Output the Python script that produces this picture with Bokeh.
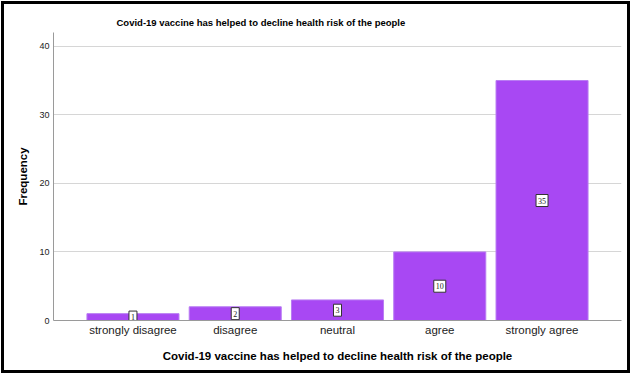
from bokeh.plotting import figure
from bokeh.models import ColumnDataSource, Range1d, FixedTicker, LabelSet, Title
from bokeh.embed import file_html
from bokeh.resources import INLINE

categories = ["strongly disagree", "disagree", "neutral", "agree", "strongly agree"]
counts = [1, 2, 3, 10, 35]
y_ticks = [0, 10, 20, 30, 40]
title_text = "Covid-19 vaccine has helped to decline health risk of the people"

xpos = list(range(len(categories)))
labs = [str(c) for c in counts]
src = ColumnDataSource(dict(
    x=xpos,
    top=counts,
    mid=[c / 2 for c in counts],
    lab=labs,
    bw=[4 + 4 * len(s) for s in labs],
))

p = figure(width=629, height=372, output_backend="svg", toolbar_location=None,
           x_range=Range1d(-0.777, 4.777), y_range=Range1d(0, 42),
           min_border_left=49, min_border_right=12,
           min_border_top=28, min_border_bottom=56)
p.outline_line_color = None
p.background_fill_color = "white"
p.border_fill_color = "white"
p.styles = {"border": "3px solid black", "margin": "1px"}

p.vbar(x="x", top="top", width=0.9, source=src,
       fill_color="#a848f3", line_color="#b97cf3", line_width=1)

p.rect(x="x", y="mid", width="bw", height=12, width_units="screen",
       height_units="screen", source=src, fill_color="white",
       line_color="#333333", line_width=1)

labels = LabelSet(x="x", y="mid", text="lab", source=src,
                  text_align="center", text_baseline="middle",
                  text_font_size="8px", text_font="Liberation Sans",
                  text_color="#222222")
p.add_layout(labels)

# axes
p.xaxis.ticker = FixedTicker(ticks=xpos)
p.xaxis.major_label_overrides = {i: c for i, c in enumerate(categories)}
p.xaxis.major_tick_line_color = None
p.xaxis.major_tick_out = 0
p.xaxis.major_tick_in = 0
p.xaxis.minor_tick_line_color = None
p.xaxis.axis_line_color = "#9a9a9a"
p.xaxis.major_label_text_font = "Liberation Sans"
p.xaxis.major_label_text_font_size = "11.5px"
p.xaxis.major_label_text_color = "#222222"
p.xaxis.major_label_standoff = 3
p.xaxis.axis_label = title_text
p.xaxis.axis_label_text_font = "Liberation Sans"
p.xaxis.axis_label_text_font_size = "11.5px"
p.xaxis.axis_label_text_font_style = "bold"
p.xaxis.axis_label_text_color = "black"
p.xaxis.axis_label_standoff = 11

p.yaxis.ticker = FixedTicker(ticks=y_ticks)
p.yaxis.major_tick_line_color = None
p.yaxis.major_tick_out = 0
p.yaxis.major_tick_in = 0
p.yaxis.minor_tick_line_color = None
p.yaxis.axis_line_color = "#9a9a9a"
p.yaxis.major_label_text_font = "Liberation Sans"
p.yaxis.major_label_text_font_size = "9px"
p.yaxis.major_label_text_color = "#222222"
p.yaxis.major_label_standoff = 4
p.yaxis.axis_label = "Frequency"
p.yaxis.axis_label_text_font = "Liberation Sans"
p.yaxis.axis_label_text_font_size = "11.5px"
p.yaxis.axis_label_text_font_style = "bold"
p.yaxis.axis_label_text_color = "black"
p.yaxis.axis_label_standoff = 7

p.xgrid.grid_line_color = None
p.ygrid.ticker = FixedTicker(ticks=y_ticks[1:])
p.ygrid.grid_line_color = "#d6d6d6"
p.ygrid.grid_line_width = 1

t = Title(text=title_text, align="left", offset=63,
          text_font="Liberation Sans", text_font_size="9.5px",
          text_font_style="bold", text_color="black")
p.add_layout(t, "above")

open("out.html", "w").write(file_html(p, INLINE))
